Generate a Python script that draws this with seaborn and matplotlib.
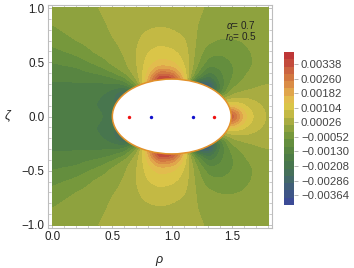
import numpy as np
import seaborn as sns
import matplotlib.pyplot as plt
from matplotlib.colors import ListedColormap
from matplotlib.patches import Ellipse

# values, in units of 1e-3, upper half (plot is mirrored in zeta)
rho = [0, .2, .4, .5, .6, .7, .8, .9, 1.0, 1.1, 1.2, 1.3, 1.4, 1.5, 1.6, 1.7, 1.8]
zeta = [0, .05, .1, .15, .2, .25, .3, .35, .4, .45, .5, .6, .7, .8, .9, 1.0]
field = [
    [-1.75, -1.75, -1.8, -1.9, -1.9, -1.5, 0, 0, 0, 0, 0, 0, 3.5, 3.5, 1.4, .75, .45],
    [-1.75, -1.75, -1.82, -2.0, -2.2, -1.8, 0, 0, 0, 0, 0, 0, 2.2, 2.4, 1.2, .68, .42],
    [-1.72, -1.75, -1.85, -2.1, -2.6, -2.2, 0, 0, 0, 0, 0, 0, 1.0, 1.3, .9, .58, .4],
    [-1.68, -1.72, -1.85, -2.15, -2.9, -2.6, 0, 0, 0, 0, 0, -.5, .3, .7, .62, .45, .33],
    [-1.62, -1.65, -1.78, -2.1, -2.9, -2.4, 0, 0, 0, 0, -2.0, -2.5, -.8, .1, .3, .3, .28],
    [-1.55, -1.58, -1.65, -1.85, -2.2, -1.4, 1.0, 3.0, 3.0, 1.0, -3.0, -3.5, -1.5, -.2, .03, .15, .2],
    [-1.48, -1.48, -1.5, -1.5, -1.4, -.3, 2.0, 4.0, 4.0, 1.5, -3.5, -3.5, -1.3, -.5, -.12, .05, .12],
    [-1.4, -1.38, -1.28, -1.15, -.85, .15, 1.6, 3.9, 3.4, 1.3, -1.3, -2.2, -1.25, -.65, -.25, -.05, .05],
    [-1.3, -1.22, -1.0, -.78, -.25, .35, 1.35, 2.7, 2.4, 1.1, -.6, -1.6, -1.15, -.7, -.33, -.13, -.02],
    [-1.18, -1.08, -.72, -.38, -.05, .42, 1.2, 1.8, 1.65, .95, -.3, -1.2, -1.0, -.7, -.38, -.2, -.08],
    [-1.05, -.88, -.5, -.15, .05, .48, 1.1, 1.4, 1.3, .85, -.15, -.85, -.85, -.65, -.4, -.22, -.1],
    [-.78, -.55, -.13, 0, .15, .5, .88, 1.05, .95, .7, 0, -.5, -.6, -.5, -.33, -.22, -.12],
    [-.55, -.27, -.03, .1, .2, .45, .68, .75, .68, .55, .08, -.2, -.3, -.3, -.25, -.17, -.1],
    [-.35, -.1, .05, .15, .22, .38, .5, .55, .5, .4, .12, -.08, -.15, -.17, -.15, -.1, -.07],
    [-.2, -.05, .1, .16, .22, .3, .37, .4, .38, .3, .15, .03, -.05, -.08, -.08, -.05, -.03],
    [-.1, 0, .13, .18, .22, .25, .3, .32, .3, .25, .18, .08, .02, 0, 0, 0, 0],
]
band_colors = ['#3c4b96', '#3e5587', '#415f78', '#436969', '#46705a', '#48764e',
               '#4e7d46', '#588541', '#648e3e', '#76983c', '#8ea23e', '#a8ac41',
               '#c3b944', '#dac548', '#e2bc4e', '#e0a54b', '#da8c46', '#d27841',
               '#cb6441', '#c34b3c', '#be3737']
bar_ticks = [0.00338, 0.00260, 0.00182, 0.00104, 0.00026,
             -0.00052, -0.00130, -0.00208, -0.00286, -0.00364]
level_low = -0.00417
level_step = 0.00039
ring_center = (0.995, 0.0)
ring_width = 0.99
ring_height = 0.69
red_points = [0.64, 1.35]
blue_points = [0.82, 1.17]

sns.set_style("ticks")
plt.rcParams['font.family'] = ['Liberation Sans', 'DejaVu Sans']
plt.rcParams['mathtext.fontset'] = 'custom'
plt.rcParams['mathtext.it'] = 'Liberation Sans:italic'
plt.rcParams['mathtext.rm'] = 'Liberation Sans'

upper = np.array(field) * 1e-3
values = np.vstack([upper[:0:-1], upper])
zeta_all = np.concatenate([-np.array(zeta[:0:-1]), zeta])

# resample the read table to a fine grid and soften it so the bands curve
fine_x = np.linspace(0, 1.8, 181)
fine_y = np.linspace(-1, 1, 201)
grid = np.array([np.interp(fine_x, rho, row) for row in values])
grid = np.array([np.interp(fine_y, zeta_all, col) for col in grid.T]).T
kernel = np.exp(-0.5 * (np.arange(-6, 7) / 2.5) ** 2)
kernel = kernel / kernel.sum()
for axis in (0, 1):
    pad = [(6, 6) if a == axis else (0, 0) for a in (0, 1)]
    padded = np.pad(grid, pad, mode='edge')
    grid = np.apply_along_axis(lambda v: np.convolve(v, kernel, mode='valid'), axis, padded)

levels = level_low + level_step * np.arange(len(band_colors) + 1)
grid = np.clip(grid, levels[0] + 1e-6, levels[-1] - 1e-6)
cmap = ListedColormap(sns.color_palette(band_colors))

fig = plt.figure(figsize=(3.54, 2.68), dpi=100)
W, H = 354, 268
ax = fig.add_axes([48 / W, 1 - 228 / H, 224 / W, 223 / H])
cs = ax.contourf(fine_x, fine_y, grid, levels=levels, cmap=cmap)
cs.set_edgecolor('face')
cs.set_linewidth(0.3)

ax.add_patch(Ellipse(ring_center, ring_width, ring_height, facecolor='white',
                     edgecolor='#e2912a', linewidth=1.1, zorder=3))
ax.scatter(red_points, [0, 0], s=6, color='#ee1111', zorder=4, linewidths=0)
ax.scatter(blue_points, [0, 0], s=6, color='#1111cc', zorder=4, linewidths=0)

ax.set_xlim(-0.036, 1.83)
ax.set_ylim(-1.028, 1.028)
ax.set_xticks([0, .5, 1, 1.5])
ax.set_xticks(np.arange(0, 1.85, .1), minor=True)
ax.set_yticks([-1, -.5, 0, .5, 1])
ax.set_yticks(np.arange(-1, 1.05, .1), minor=True)
ax.set_yticklabels(['\u22121.0', '\u22120.5', '0.0', '0.5', '1.0'])
ax.set_xticklabels(['0.0', '0.5', '1.0', '1.5'])
ax.tick_params(which='major', direction='in', length=4, width=.6, color='#b5b5b5',
               labelsize=8.4, labelcolor='#222222', top=True, right=True, pad=2.5)
ax.tick_params(which='minor', direction='in', length=2, width=.5, color='#b5b5b5', top=True, right=True)
for s in ax.spines.values():
    s.set_color('#bdbdbd')
    s.set_linewidth(.8)

fig.text(160 / W, 1 - 261 / H, r'$\rho$', fontsize=9, ha='center', va='center', color='#222222')
fig.text(8 / W, 1 - 116 / H, r'$\zeta$', fontsize=9, ha='center', va='center', color='#222222')
fig.text(226 / W, 1 - 25 / H, r'$\alpha$= 0.7', fontsize=7.2, va='center', color='#222222')
fig.text(225 / W, 1 - 37 / H, r'$r_0$= 0.5', fontsize=7.2, va='center', color='#222222')

cax = fig.add_axes([284 / W, 1 - 205 / H, 10 / W, 153 / H])
cb = fig.colorbar(cs, cax=cax, drawedges=False)
cb.set_ticks(bar_ticks)
cb.set_ticklabels(['%.5f' % t if t > 0 else '\u2212%.5f' % abs(t) for t in bar_ticks])
cb.ax.tick_params(length=3, width=.5, color='#999999', labelsize=8.2, labelcolor='#444444', pad=2, direction='out')
cb.outline.set_visible(False)

plt.savefig('out.png', dpi=100)
